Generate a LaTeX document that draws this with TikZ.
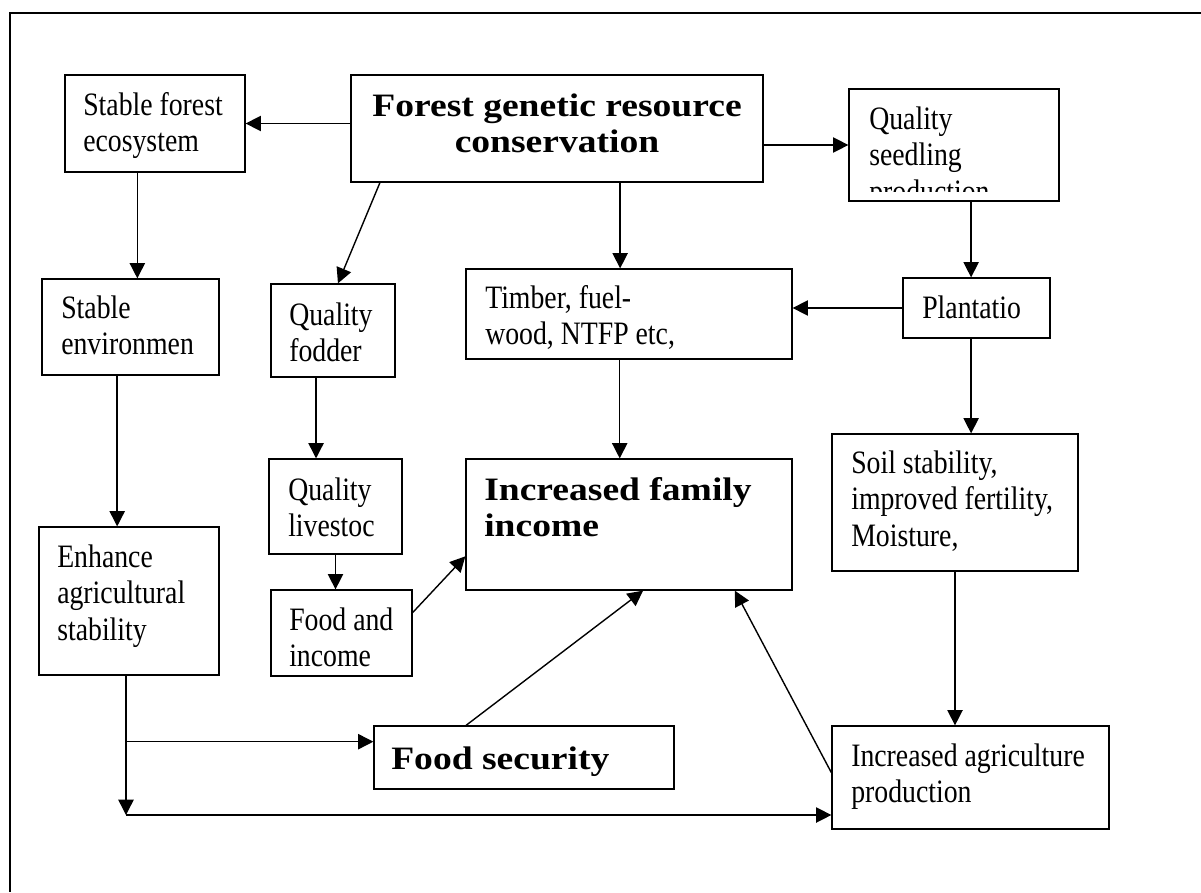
\documentclass[tikz,border=0pt]{standalone}
\usepackage{fontspec}
\setmainfont{Liberation Serif}[FakeStretch=0.85]
\newfontfamily\headfont{Liberation Serif}[FakeStretch=1.15]
\usetikzlibrary{arrows.meta}
\newcommand{\boxsize}{\fontsize{24.5}{27.5}\selectfont}

\begin{document}
\begin{tikzpicture}[x=0.75pt,y=0.75pt,yscale=-1,xscale=1,
	font=\boxsize,
	box/.style={draw,line width=0.95pt,inner sep=0pt},
	txt/.style={inner sep=0pt,anchor=base west,align=flush left,text width=330pt},
	boldtxt/.style={txt,font=\boxsize\headfont\bfseries},
	arr/.style={line width=1.05pt,-{Triangle[length=11.5pt,width=11.5pt]}}]
		\useasboundingbox (0,0) rectangle (1201,892);
		
		%Frame
		\draw[line width=1.3pt] (1201,13) -- (10,13) -- (10,892) ;
		
		%Shape: Rectangles
		\node[box,minimum width=309pt,minimum height=80.25pt] (forest) at (557,128.5) {};
		\node[box,minimum width=135pt,minimum height=72.75pt] (stableforest) at (155,123.5) {};
		\node[box,minimum width=157.5pt,minimum height=84pt] (seedling) at (954,145) {};
		\node[box,minimum width=132.75pt,minimum height=72pt] (stableenv) at (130.5,327) {};
		\node[box,minimum width=93pt,minimum height=69.75pt] (fodder) at (333,330.5) {};
		\node[box,minimum width=244.5pt,minimum height=67.5pt] (timber) at (629,314) {};
		\node[box,minimum width=110.25pt,minimum height=45pt] (plantation) at (976.5,308) {};
		\node[box,minimum width=184.5pt,minimum height=102.75pt] (soil) at (955,502.5) {};
		\node[box,minimum width=99.75pt,minimum height=71.25pt] (livestock) at (335.5,506.5) {};
		\node[box,minimum width=135pt,minimum height=111pt] (enhance) at (129,601) {};
		\node[box,minimum width=105.75pt,minimum height=64.5pt] (foodincome) at (341.5,633) {};
		\node[box,minimum width=244.5pt,minimum height=98.25pt] (income) at (629,524.5) {};
		\node[box,minimum width=225pt,minimum height=47.25pt] (foodsec) at (524,757.5) {};
		\node[box,minimum width=207.75pt,minimum height=77.25pt] (agri) at (970.5,777.5) {};
		
		% Text Node
		\node[boldtxt,anchor=base,align=flush center] (forest-t) at (557,116) {Forest genetic resource\\conservation};
		\node[txt] (stableforest-t) at (83,115) {Stable forest\\ecosystem};
		\begin{scope}
			\clip (849,89) rectangle (1059,191);
			\node[txt] (seedling-t) at (869,129) {Quality\\seedling\\production};
		\end{scope}
		\node[txt] (stableenv-t) at (61,318) {Stable\\environmen};
		\node[txt] (fodder-t) at (289,325) {Quality\\fodder};
		\node[txt] (timber-t) at (485,308) {Timber, fuel-\\wood, NTFP etc,};
		\node[txt] (plantation-t) at (922,318) {Plantatio};
		\node[txt] (soil-t) at (851,473) {Soil stability,\\improved fertility,\\Moisture,};
		\node[txt] (livestock-t) at (288,500) {Quality\\livestoc};
		\node[txt] (enhance-t) at (57,567) {Enhance\\agricultural\\stability};
		\node[txt] (foodincome-t) at (289,630) {Food and\\income};
		\node[boldtxt] (income-t) at (484,500) {Increased family\\income};
		\node[boldtxt] (foodsec-t) at (391,769) {Food security};
		\node[txt] (agri-t) at (851,766) {Increased agriculture\\production};
		
		%Straight Lines
		\draw[arr] (stableforest.east -| forest.west) -- (stableforest.east) ;
		\draw[arr] (seedling.west -| forest.east) -- (seedling.west) ;
		\draw[arr] (forest.197) -- (fodder.84) ;
		\draw[arr] (forest.south -| timber.101) -- (timber.101) ;
		\draw[arr] (stableforest.south -| stableenv.82) -- (stableenv.82) ;
		\draw[arr] (seedling.south -| plantation.100) -- (plantation.100) ;
		\draw[arr] (plantation.west) -- (plantation.west -| timber.east) ;
		\draw[arr] (plantation.260) -- (plantation.260 |- soil.north) ;
		\draw[arr] (stableenv.south -| enhance.99) -- (enhance.99) ;
		\draw[arr] (fodder.south -| livestock.112) -- (livestock.112) ;
		\draw[arr] (timber.south -| income.98) -- (income.98) ;
		\draw[arr] (livestock.south) -- (livestock.south |- foodincome.north) ;
		\draw[arr] (foodincome.16) -- (income.191) ;
		\draw[arr] (foodsec.151) -- (income.282) ;
		\draw[arr] (agri.178) -- (income.328) ;
		\draw[arr] (soil.south) -- (soil.south |- agri.north) ;
		\coordinate (corner) at (126,815);
		\draw[arr] (enhance.south -| corner) -- (corner) ;
		\draw[arr] (corner |- foodsec.174) -- (foodsec.174) ;
		\draw[arr] (corner) -- (corner -| agri.west) ;
		
\end{tikzpicture}
\end{document}
